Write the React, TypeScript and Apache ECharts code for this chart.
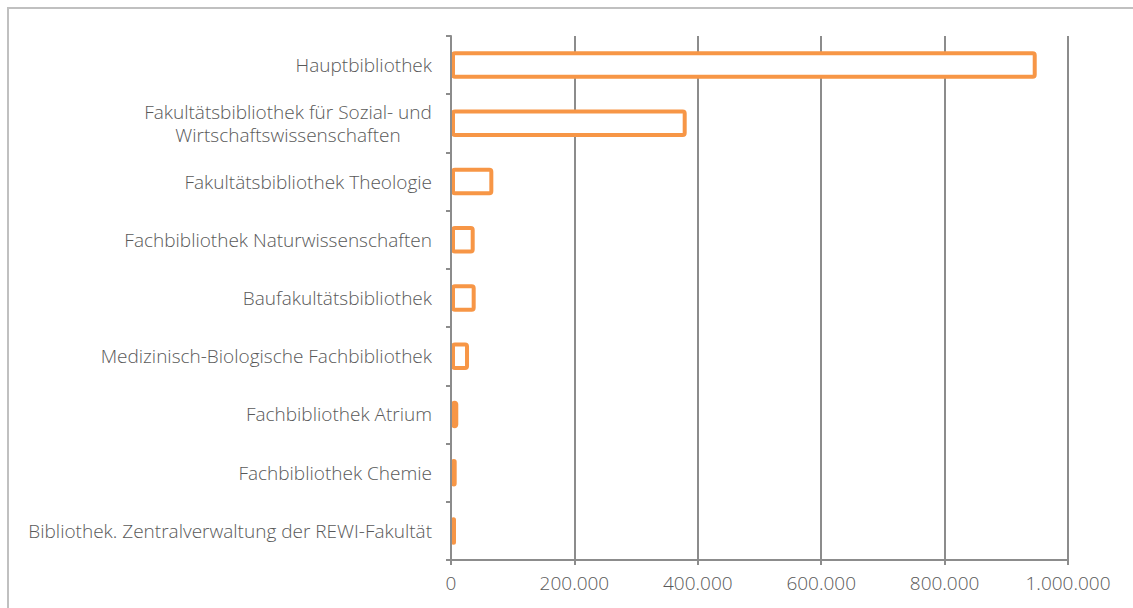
import React, { useEffect, useRef } from "react";
import * as echarts from "echarts";

const categories = [
  "Hauptbibliothek",
  "Fakultätsbibliothek für Sozial- und\nWirtschaftswissenschaften",
  "Fakultätsbibliothek Theologie",
  "Fachbibliothek Naturwissenschaften",
  "Baufakultätsbibliothek",
  "Medizinisch-Biologische Fachbibliothek",
  "Fachbibliothek Atrium",
  "Fachbibliothek Chemie",
  "Bibliothek. Zentralverwaltung der REWI-Fakultät",
];
const values = [949300, 382000, 68600, 38400, 40000, 29200, 11800, 9200, 8100];
const xTicks = [0, 200000, 400000, 600000, 800000, 1000000];

const FONT = "'Open Sans', 'Noto Sans', sans-serif";
const FONT_SIZE = 19;
const TEXT_COLOR = "#595959";
const GRID_COLOR = "#8c8c8c";

function measure(text: string): number {
  const c = document.createElement("canvas").getContext("2d");
  if (!c) return text.length * 9;
  c.font = `300 ${FONT_SIZE}px ${FONT}`;
  return c.measureText(text).width;
}

function fmt(v: number): string {
  return String(Math.round(v)).replace(/\B(?=(\d{3})+(?!\d))/g, ".");
}

export default function App() {
  const ref = useRef<HTMLDivElement>(null);
  useEffect(() => {
    if (!ref.current) return;
    const chart = echarts.init(ref.current, undefined, { renderer: "svg" });
    const multiWidth = Math.ceil(
      Math.max(...categories.filter((c) => c.includes("\n")).flatMap((c) => c.split("\n").map(measure)))
    );
    chart.setOption({
      animation: false,
      grid: { left: 451, right: 65, top: 36, bottom: 48 },
      xAxis: {
        type: "value",
        min: xTicks[0],
        max: xTicks[xTicks.length - 1],
        interval: xTicks[1] - xTicks[0],
        axisLine: { show: true, lineStyle: { color: GRID_COLOR, width: 2 } },
        axisTick: { show: true, length: 5, lineStyle: { color: GRID_COLOR, width: 2 } },
        splitLine: { show: true, lineStyle: { color: GRID_COLOR, width: 2 } },
        axisLabel: {
          color: TEXT_COLOR,
          fontFamily: FONT,
          fontWeight: 300,
          fontSize: FONT_SIZE,
          margin: 13,
          formatter: (v: number) => fmt(v),
        },
      },
      yAxis: {
        type: "category",
        data: categories,
        inverse: true,
        z: 10,
        axisLine: { show: true, lineStyle: { color: GRID_COLOR, width: 2 } },
        axisTick: { show: true, length: 5, lineStyle: { color: GRID_COLOR, width: 2 } },
        splitLine: { show: false },
        axisLabel: {
          color: TEXT_COLOR,
          fontFamily: FONT,
          fontWeight: 300,
          fontSize: FONT_SIZE,
          margin: 19,
          lineHeight: 23,
          formatter: (v: string) =>
            v.includes("\n")
              ? v
                  .split("\n")
                  .map((l) => `{c|${l}}`)
                  .join("\n")
              : v,
          rich: {
            c: {
              width: multiWidth,
              align: "center",
              color: TEXT_COLOR,
              fontFamily: FONT,
              fontWeight: 300,
              fontSize: FONT_SIZE,
              lineHeight: 23,
            },
          },
        },
      },
      series: [
        {
          type: "bar",
          data: values,
          barWidth: 27.5,
          itemStyle: {
            color: "#ffffff",
            borderColor: "#f79646",
            borderWidth: 4,
            borderRadius: 2,
          },
        },
      ],
    });
    return () => chart.dispose();
  }, []);
  return (
    <div style={{ position: "fixed", left: 0, top: 0, width: 1133, height: 608, background: "#fff" }}>
      <div
        style={{
          position: "absolute",
          left: 7,
          top: 7,
          width: 1200,
          height: 700,
          borderLeft: "2px solid #c0c0c0",
          borderTop: "2px solid #c0c0c0",
        }}
      />
      <div ref={ref} style={{ position: "absolute", left: 0, top: 0, width: 1133, height: 608 }} />
    </div>
  );
}
